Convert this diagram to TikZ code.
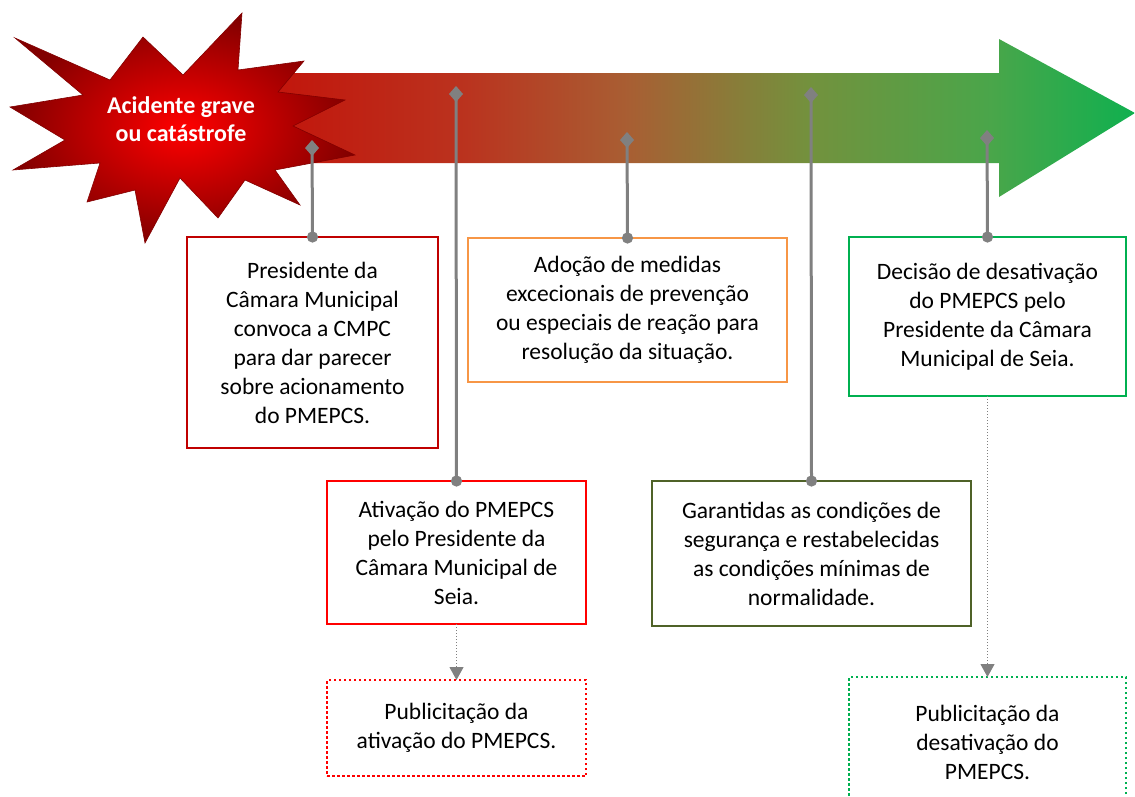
\documentclass[tikz,border=0pt]{standalone}
\usepackage{fontspec}
\setmainfont{Carlito}
\usetikzlibrary{arrows.meta}
\definecolor{darkRed}{RGB}{192,0,0}
\definecolor{brightRed}{RGB}{255,0,0}
\definecolor{orangeLine}{RGB}{247,150,70}
\definecolor{oliveLine}{RGB}{79,98,40}
\definecolor{greenLine}{RGB}{0,176,80}
\definecolor{markerGray}{RGB}{128,128,128}
\definecolor{starInner}{RGB}{255,0,0}
\definecolor{starOuter}{RGB}{130,0,0}
\pgfdeclarehorizontalshading{timeShade}{100bp}{
  rgb(0bp)=(0.78,0.06,0.04);
  rgb(25bp)=(0.78,0.06,0.04);
  rgb(28bp)=(0.76,0.09,0.05);
  rgb(38bp)=(0.73,0.20,0.12);
  rgb(47bp)=(0.66,0.37,0.20);
  rgb(57bp)=(0.45,0.57,0.24);
  rgb(67bp)=(0.29,0.65,0.29);
  rgb(75bp)=(0.06,0.69,0.31);
  rgb(100bp)=(0.06,0.69,0.31)}
\tikzstyle{boxStyle} = [draw, line width=2.5pt, fill=white, align=center, inner sep=0pt, outer sep=0pt, font=\fontsize{23.5}{29}\selectfont]
\tikzstyle{dottedBox} = [boxStyle, dash pattern=on 2.5pt off 2.5pt]
\tikzstyle{markerLine} = [draw=markerGray, line width=3pt, {Diamond[length=16pt,width=14pt]}-{Circle[length=11pt]}, shorten >=-5.5pt]
\tikzstyle{pubLine} = [draw=markerGray, line width=1pt, dotted, -{Triangle[length=13pt,width=14pt]}]
\tikzstyle{starText} = [text=white, align=center, font=\fontsize{24}{28}\selectfont\bfseries]
\newcommand{\timelineBox}[7]{\node [#2, minimum width=#5, minimum height=#6] (#1) at (#3,#4) {#7};}
\newcommand{\markerLineTo}[3]{
  \coordinate (#1Mark) at (#2,#3);
  \draw [markerLine] (#1Mark) -- (#1.north);
}

\begin{document}
\begin{tikzpicture}[x=1pt, y=-1pt]
  \useasboundingbox (0,0) rectangle (1135,796);

  % timeline arrow
  \shade [shading=timeShade] (230,73) -- (999,73) -- (999,39) -- (1135,113)
    -- (999,197) -- (999,163) -- (230,163) -- cycle;

  % explosion
  \shade [inner color=starInner, outer color=starOuter, draw=starOuter, line width=0.6pt]
    (10,107) -- (83,95) -- (15,38) -- (110,80) -- (143,37) -- (183,75)
    -- (242,13) -- (238,70) -- (304,61) -- (278,92) -- (345,100) -- (293,126)
    -- (355,155) -- (275,170) -- (300,205) -- (245,180) -- (218,218)
    -- (180,178) -- (145,243) -- (135,190) -- (87,202) -- (100,163)
    -- (13,170) -- (65,140) -- cycle;
  \node [starText] (eventText) at (181,119) {Acidente grave\\ou catástrofe};

  % boxes
  \timelineBox{callBox}{boxStyle, draw=darkRed}{312.5}{342.5}{251}{211}
    {Presidente da\\Câmara Municipal\\convoca a CMPC\\para dar parecer\\sobre acionamento\\do PMEPCS.}
  \timelineBox{actBox}{boxStyle, draw=brightRed}{456.5}{552.5}{259}{143}
    {Ativação do PMEPCS\\pelo Presidente da\\Câmara Municipal de\\Seia.}
  \timelineBox{measBox}{boxStyle, draw=orangeLine}{627.5}{310}{319}{144}
    {Adoção de medidas\\excecionais de prevenção\\ou especiais de reação para\\resolução da situação.}
  \timelineBox{safeBox}{boxStyle, draw=oliveLine}{811.5}{553.5}{319}{145}
    {Garantidas as condições de\\segurança e restabelecidas\\as condições mínimas de\\normalidade.}
  \timelineBox{deactBox}{boxStyle, draw=greenLine}{987.5}{316.5}{277}{159}
    {Decisão de desativação\\do PMEPCS pelo\\Presidente da Câmara\\Municipal de Seia.}
  \timelineBox{pubActBox}{dottedBox, draw=brightRed}{456.5}{728}{259}{96}
    {Publicitação da\\ativação do PMEPCS.}
  \timelineBox{pubDeactBox}{dottedBox, draw=greenLine}{987.5}{742}{277}{130}
    {Publicitação da\\desativação do\\PMEPCS.}

  % connectors
  \markerLineTo{callBox}{312}{140}
  \markerLineTo{actBox}{456}{86}
  \markerLineTo{measBox}{627}{132}
  \markerLineTo{safeBox}{811}{87}
  \markerLineTo{deactBox}{987}{130}
  \draw [pubLine] (actBox.south) -- (pubActBox.north);
  \draw [pubLine] (deactBox.south) -- (pubDeactBox.north);
\end{tikzpicture}
\end{document}
